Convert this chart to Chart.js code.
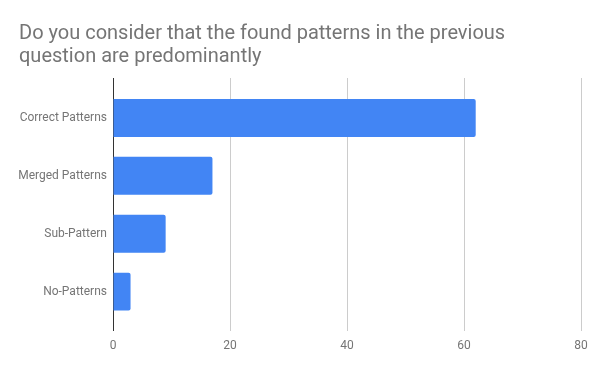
<!DOCTYPE html>
<html>
<head>
<meta charset="utf-8">
<script src="https://cdn.jsdelivr.net/npm/chart.js@4/dist/chart.umd.min.js"></script>
<style>
html,body{margin:0;padding:0;background:#fff;}
#wrap{width:600px;height:371px;position:relative;}
</style>
</head>
<body>
<div id="wrap"><canvas id="c" width="600" height="371"></canvas></div>
<script>
const titleLines = ["Do you consider that the found patterns in the previous", "question are predominantly"];
const categories = ["Correct Patterns", "Merged Patterns", "Sub-Pattern", "No-Patterns"];
const values = [62, 17, 9, 3];
const xTicks = [0, 20, 40, 60, 80];

const points = values.map((v, i) => ({ x: v, y: i }));

new Chart(document.getElementById('c'), {
  type: 'bar',
  data: {
    datasets: [{
      data: points,
      backgroundColor: '#4285F4',
      borderWidth: 0,
      borderRadius: 2,
      borderSkipped: 'start',
      categoryPercentage: 1,
      barPercentage: 0.656
    }]
  },
  options: {
    indexAxis: 'y',
    responsive: false,
    animation: false,
    devicePixelRatio: 1,
    layout: { padding: { left: 19, right: 19, top: 0, bottom: 0 } },
    plugins: {
      legend: { display: false },
      tooltip: { enabled: false },
      title: {
        display: true,
        text: titleLines,
        align: 'start',
        color: '#757575',
        font: { family: 'Roboto', size: 20, weight: 'normal', lineHeight: 1.15 },
        padding: { top: 22, bottom: 10 }
      }
    },
    scales: {
      x: {
        type: 'linear',
        bounds: 'data',
        min: xTicks[0],
        max: xTicks[xTicks.length - 1],
        afterBuildTicks: (s) => { s.ticks = xTicks.map(v => ({ value: v })); },
        afterFit: (s) => { s.height = 40; },
        border: { display: false },
        grid: {
          drawTicks: false,
          color: (ctx) => (ctx.tick && ctx.tick.value === 0) ? '#333333' : '#cccccc',
          lineWidth: 1
        },
        ticks: {
          color: '#757575',
          padding: 8,
          font: { family: 'Roboto', size: 12 }
        }
      },
      y: {
        type: 'linear',
        bounds: 'data',
        offset: false,
        reverse: true,
        min: -0.69,
        max: categories.length - 1 + 0.68,
        afterBuildTicks: (s) => { s.ticks = categories.map((c, i) => ({ value: i })); },
        afterFit: (s) => { s.width = 94; },
        border: { display: false },
        grid: { display: false, drawTicks: false, offset: false },
        ticks: {
          color: '#757575',
          padding: 6,
          font: { family: 'Roboto', size: 12 },
          callback: (v) => categories[v] !== undefined ? categories[v] : ''
        }
      }
    }
  }
});
</script>
</body>
</html>
